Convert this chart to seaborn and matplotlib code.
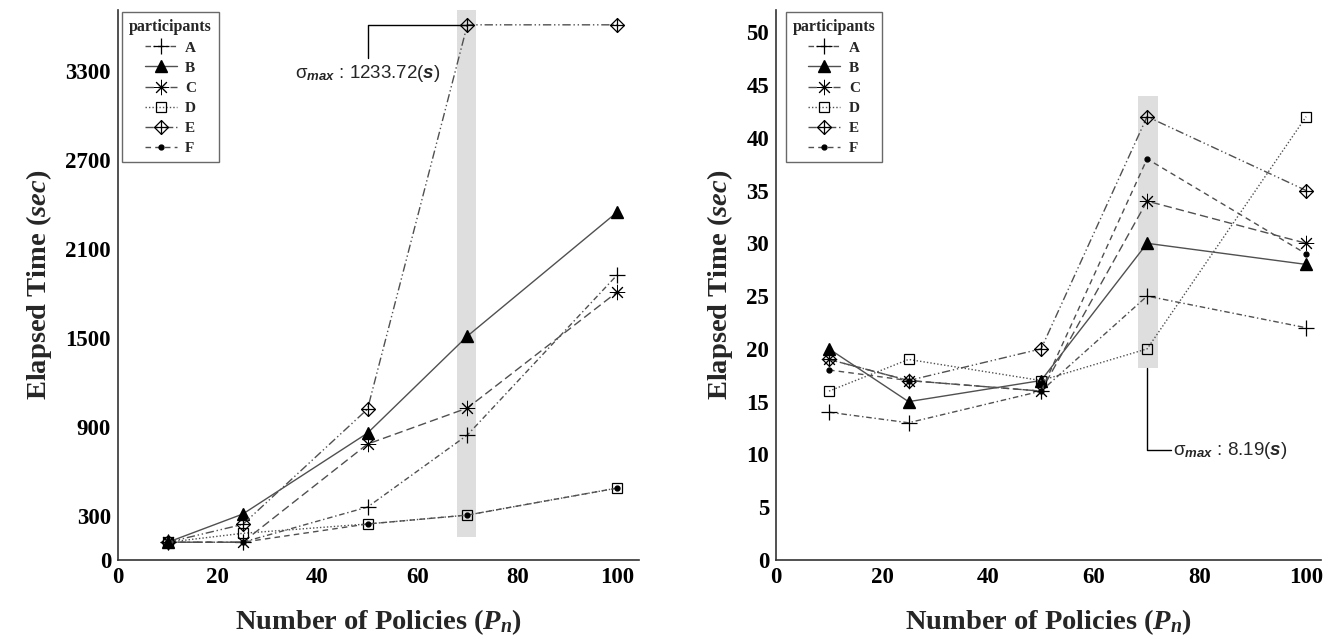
import numpy as np
import pandas as pd
import matplotlib
matplotlib.use("Agg")
import matplotlib.pyplot as plt
from matplotlib.path import Path
from matplotlib.patches import Rectangle
import seaborn as sns

# ---------------- data ----------------
policies = [10, 25, 50, 70, 100]
participants = ["A", "B", "C", "D", "E", "F"]

left_A = [120, 120, 357, 843, 1922]
left_B = [120, 310, 856, 1510, 2346]
left_C = [120, 120, 782, 1025, 1807]
left_D = [120, 180, 243, 303, 485]
left_E = [120, 240, 1018, 3610, 3610]
left_F = [120, 120, 243, 303, 485]

right_A = [14, 13, 16, 25, 22]
right_B = [20, 15, 17, 30, 28]
right_C = [19, 17, 16, 34, 30]
right_D = [16, 19, 17, 20, 42]
right_E = [19, 17, 20, 42, 35]
right_F = [18, 17, 16, 38, 29]

left_yticks = [0, 300, 900, 1500, 2100, 2700, 3300]
right_yticks = list(range(0, 51, 5))
xticks = [0, 20, 40, 60, 80, 100]

left_note = r"σ$_{\mathsf{max}}$ : 1233.72($\mathsf{s}$)"
right_note = r"σ$_{\mathsf{max}}$ : 8.19($\mathsf{s}$)"

# ---------------- style ----------------
sns.set_style("white")
plt.rcParams["font.family"] = ["Liberation Serif", "DejaVu Serif"]
plt.rcParams["mathtext.fontset"] = "custom"
plt.rcParams["mathtext.rm"] = "Liberation Serif:bold"
plt.rcParams["mathtext.it"] = "Liberation Serif:italic:bold"
plt.rcParams["mathtext.bf"] = "Liberation Serif:bold"
plt.rcParams["mathtext.sf"] = "Liberation Sans:italic:bold"

# diamond with plus inside (R pch 9)
diamond_plus = Path(
    [(0, 1), (1, 0), (0, -1), (-1, 0), (0, 1), (0, 1), (0, -1), (-1, 0), (1, 0)],
    [Path.MOVETO, Path.LINETO, Path.LINETO, Path.LINETO, Path.CLOSEPOLY,
     Path.MOVETO, Path.LINETO, Path.MOVETO, Path.LINETO],
)

styles = {
    "A": dict(marker="+", ms=11, ls=(0, (4, 2, 1, 2)), mfc="none", mew=0.9),
    "B": dict(marker="^", ms=8, ls="-", mfc="black", mew=1.0),
    "C": dict(marker=(8, 2, 0), ms=11, ls=(0, (6, 3)), mfc="none", mew=0.7),
    "D": dict(marker="s", ms=7.5, ls=(0, (1, 1.5)), mfc="none", mew=0.9),
    "E": dict(marker=diamond_plus, ms=10, ls=(0, (6, 2, 1, 2, 1, 2)), mfc="none", mew=0.9),
    "F": dict(marker="o", ms=3.5, ls=(0, (4, 3)), mfc="black", mew=1.0),
}

LINE_COLOR = "#505050"

fig = plt.figure(figsize=(13.28, 6.35), dpi=100)
ax1 = fig.add_axes([118 / 1328, 75 / 635, 521 / 1328, 550 / 635])
ax2 = fig.add_axes([776 / 1328, 75 / 635, 545 / 1328, 550 / 635])


def draw(ax, series, ylim, xmax, yticks, band, note, note_kind, leg_x):
    # highlight band
    bx0, bx1, by0, by1 = band
    ax.add_patch(Rectangle((bx0, by0), bx1 - bx0, by1 - by0,
                           facecolor="#dedede", edgecolor="none", zorder=0))
    for name in participants:
        df = pd.DataFrame({"x": policies, "y": series[name]})
        st = styles[name]
        sns.lineplot(data=df, x="x", y="y", ax=ax, color=LINE_COLOR,
                     linestyle=st["ls"], linewidth=1.0,
                     marker=st["marker"], markersize=st["ms"],
                     markerfacecolor=st["mfc"], markeredgecolor="black",
                     markeredgewidth=st["mew"], label=name, zorder=3)
    ax.set_xlim(0, xmax)
    ax.set_ylim(*ylim)
    ax.set_xticks(xticks)
    ax.set_yticks(yticks)
    for lab in ax.get_xticklabels() + ax.get_yticklabels():
        lab.set_fontweight("bold")
        lab.set_fontsize(16.5)
    ax.tick_params(axis="both", direction="out", length=4, width=1,
                   colors="#333333", labelcolor="black", pad=1)
    for s in ["top", "right"]:
        ax.spines[s].set_visible(False)
    for s in ["left", "bottom"]:
        ax.spines[s].set_color("#333333")
        ax.spines[s].set_linewidth(1.2)
    ax.set_xlabel(r"Number of Policies ($P_n$)", fontsize=20.5,
                  fontweight="bold", labelpad=14)
    ax.set_ylabel(r"Elapsed Time ($sec$)", fontsize=20.5,
                  fontweight="bold", labelpad=8)
    leg = ax.legend(title="participants", loc="upper left",
                    bbox_to_anchor=(leg_x, 0.997), borderaxespad=0.0,
                    frameon=True, fancybox=False,
                    edgecolor="#444444", handlelength=2.1, numpoints=1,
                    labelspacing=0.42, borderpad=0.45, handletextpad=0.55,
                    prop={"family": "Liberation Serif", "weight": "bold",
                          "size": 11},
                    title_fontproperties={"family": "Liberation Serif",
                                          "weight": "bold", "size": 11.5})
    leg.get_frame().set_linewidth(1.0)

    # annotation
    if note_kind == "left":
        x0 = policies[3]
        y0 = series["E"][3]
        xm, ym = 50, 3385
        ax.plot([x0, xm, xm], [y0, y0, ym], color="black", lw=1, zorder=2)
        ax.text(xm, ym - 30, note, ha="center", va="top", fontsize=13.5,
                family=["Liberation Sans", "DejaVu Sans"])
    else:
        x0 = policies[3]
        ax.plot([x0, x0, 74.6], [by0, 10.4, 10.4], color="black", lw=1,
                zorder=2)
        ax.text(74.8, 10.4, note, ha="left", va="center", fontsize=13.5,
                family=["Liberation Sans", "DejaVu Sans"])


left_series = dict(zip(participants, [left_A, left_B, left_C, left_D, left_E, left_F]))
right_series = dict(zip(participants, [right_A, right_B, right_C, right_D, right_E, right_F]))

draw(ax1, left_series, (0, 3710), 104.4, left_yticks, (68, 71.8, 155, 3710),
     left_note, "left", 0.008)
draw(ax2, right_series, (0, 52.1), 102.8, right_yticks, (68.2, 72, 18.2, 44),
     right_note, "right", 0.018)

fig.savefig("out.png", dpi=100)
